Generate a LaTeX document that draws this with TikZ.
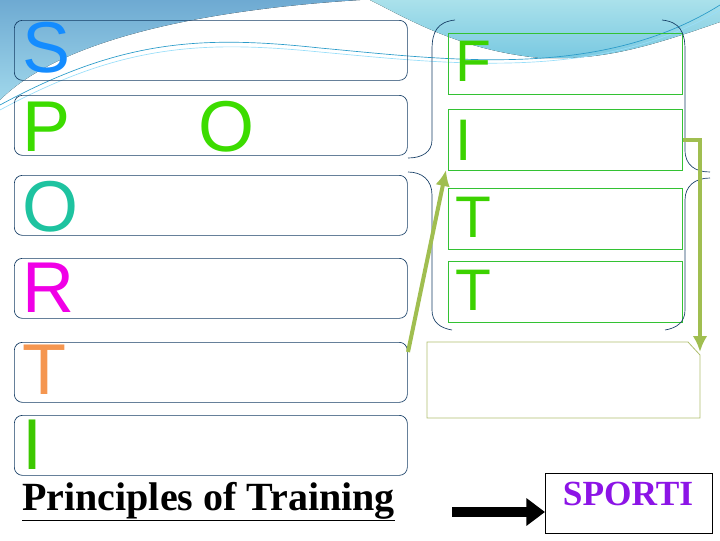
\documentclass[tikz,border=0pt]{standalone}
\usepackage{fontspec}
\setmainfont{Liberation Serif}
\newfontfamily\lsans{Liberation Sans}
\begin{document}
\begin{tikzpicture}[x=0.75pt,y=-0.75pt,
  lbox/.style={draw={rgb,255:red,20;green,60;blue,100},rounded corners=6pt,line width=0.5pt},
  gbox/.style={draw=green!70!black!80!white,line width=0.6pt},
  big/.style={font=\lsans\fontsize{54}{54}\selectfont,anchor=west,inner sep=0pt},
  mid/.style={font=\lsans\fontsize{44}{44}\selectfont,anchor=west,inner sep=0pt},
  brk/.style={draw={rgb,255:red,20;green,60;blue,100},line width=0.5pt},
  garrow/.style={draw={rgb,255:red,160;green,190;blue,80},line width=3pt,-{Latex[length=12pt,width=11pt]}}]
\usetikzlibrary{arrows.meta}
\useasboundingbox (0,0) rectangle (720,540);
% background swoosh
\fill[top color={rgb,255:red,110;green,170;blue,210},bottom color={rgb,255:red,160;green,215;blue,235}]
  (0,0) -- (360,0) .. controls (200,10) and (60,40) .. (0,100) -- cycle;
\fill[top color={rgb,255:red,170;green,225;blue,235},bottom color={rgb,255:red,120;green,200;blue,225}]
  (370,0) -- (720,0) -- (720,22) .. controls (640,50) and (600,60) .. (540,58) .. controls (460,50) and (410,20) .. (370,0) -- cycle;
\draw[cyan!60!teal,line width=0.5pt] (0,105) .. controls (120,40) and (200,35) .. (320,48) .. controls (450,60) and (600,80) .. (720,5);
\draw[cyan!40,line width=0.5pt] (0,110) .. controls (120,45) and (200,40) .. (320,52) .. controls (450,64) and (600,82) .. (720,10);
% left boxes
\node[lbox,minimum width=393pt*0.75,minimum height=60pt*0.75,anchor=north west] (bS) at (14,20) {};
\node[lbox,minimum width=393pt*0.75,minimum height=60pt*0.75,anchor=north west] (bP) at (14,95) {};
\node[lbox,minimum width=393pt*0.75,minimum height=60pt*0.75,anchor=north west] (bO) at (14,175) {};
\node[lbox,minimum width=393pt*0.75,minimum height=60pt*0.75,anchor=north west] (bR) at (14,258) {};
\node[lbox,minimum width=393pt*0.75,minimum height=60pt*0.75,anchor=north west] (bT) at (14,342) {};
\node[lbox,minimum width=393pt*0.75,minimum height=60pt*0.75,anchor=north west] (bI) at (14,415) {};
\node[big,text={rgb,255:red,20;green,140;blue,255}] (lS) at (22,48) {S};
\node[big,text={rgb,255:red,60;green,220;blue,0}] (lP) at (22,127) {P};
\node[big,text={rgb,255:red,60;green,220;blue,0}] (lP2) at (198,127) {O};
\node[big,text={rgb,255:red,30;green,195;blue,160}] (lO) at (22,207) {O};
\node[big,text={rgb,255:red,240;green,0;blue,230}] (lR) at (22,288) {R};
\node[big,text={rgb,255:red,245;green,150;blue,80}] (lT) at (22,370) {T};
\node[big,text={rgb,255:red,60;green,200;blue,0}] (lI) at (22,445) {I};
% right boxes
\node[gbox,minimum width=234pt*0.75,minimum height=61pt*0.75,anchor=north west] (bF) at (448,33) {};
\node[gbox,minimum width=234pt*0.75,minimum height=61pt*0.75,anchor=north west] (bI2) at (448,109) {};
\node[gbox,minimum width=234pt*0.75,minimum height=61pt*0.75,anchor=north west] (bT1) at (448,188) {};
\node[gbox,minimum width=234pt*0.75,minimum height=61pt*0.75,anchor=north west] (bT2) at (448,261) {};
\node[mid,text={rgb,255:red,60;green,210;blue,0}] (rF) at (455,61) {F};
\node[mid,text={rgb,255:red,60;green,210;blue,0}] (rI) at (455,140) {I};
\node[mid,text={rgb,255:red,60;green,210;blue,0}] (rT1) at (455,217) {T};
\node[mid,text={rgb,255:red,60;green,210;blue,0}] (rT2) at (455,290) {T};
% blank box with clipped corner
\draw[draw={rgb,255:red,175;green,190;blue,110},line width=0.6pt] (427,342) -- (688,342) -- (700,355) -- (700,418) -- (427,418) -- cycle;
\coordinate (blank) at (700,352);
% brackets
\draw[brk] (455,20) .. controls (437,22) and (432,32) .. (432,50) -- (432,140) .. controls (432,152) and (422,158) .. (408,158);
\draw[brk] (408,172) .. controls (422,172) and (432,180) .. (432,195) -- (432,310) .. controls (432,322) and (440,328) .. (452,330);
\draw[brk] (662,20) .. controls (680,22) and (685,32) .. (685,50) -- (685,150) .. controls (685,165) and (695,172) .. (710,172);
\draw[brk] (710,178) .. controls (695,178) and (685,186) .. (685,200) -- (685,310) .. controls (685,322) and (677,328) .. (665,330);
% green arrows
\coordinate (a1s) at (408,352);
\coordinate (a1e) at (446,170);
\draw[garrow] (a1s) -- (a1e);
\coordinate (a2s) at (683,140);
\draw[garrow] (a2s) -- (700,140) -- (blank);
% bottom
\node[font=\bfseries\fontsize{30}{30}\selectfont,anchor=base west,inner sep=0pt] (title) at (22,510) {\underline{Principles of Training}};
\node[draw=black,line width=0.8pt,minimum width=167pt*0.75,minimum height=60pt*0.75,anchor=north west] (box) at (545,473) {};
\node[font=\bfseries\fontsize{26.5}{26.5}\selectfont,text={rgb,255:red,140;green,20;blue,230},anchor=center] (sp) at (628,494) {SPORTI};
\coordinate (arr) at (452,512);
\draw[black,line width=8pt,-{Triangle[length=14pt,width=20pt]}] (arr) -- (box.west |- arr);
\end{tikzpicture}
\end{document}
